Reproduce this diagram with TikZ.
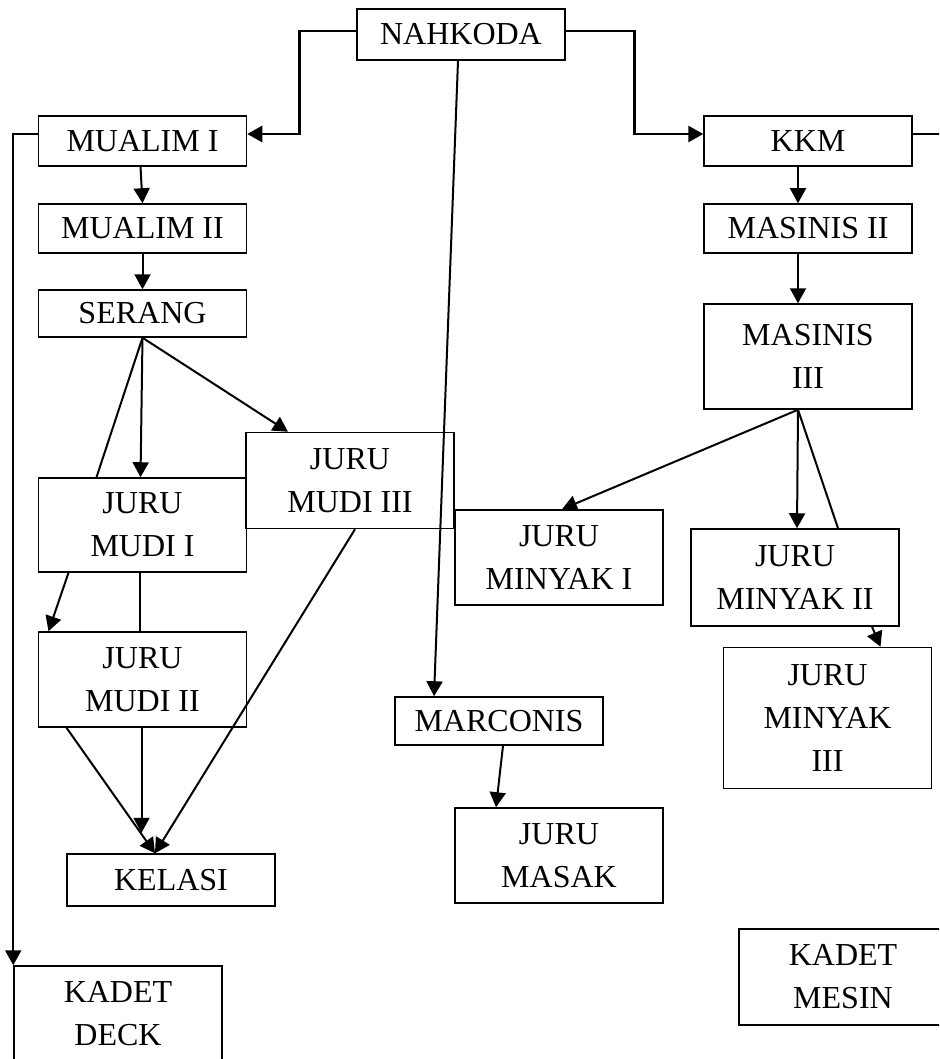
\documentclass[tikz,border=0pt]{standalone}
\usepackage{fontspec}
\setmainfont{Liberation Serif}
\usetikzlibrary{arrows.meta}

\tikzset{
  box/.style={draw, line width=0.75pt, minimum width=104pt, align=center, inner sep=2pt,
              font=\fontsize{16}{21.5}\selectfont},
  arr/.style={line width=1pt, -{Triangle[length=7.5pt,width=8pt]}},
  ln/.style={line width=1pt},
  bold/.style={line width=1.4pt}
}

\begin{document}
\begin{tikzpicture}[x=0.5pt,y=-0.5pt]

            \clip (0,0) rectangle (939,1059);
            %\draw [help lines] (0,0) grid (939,1059);

            \path   (461,34.5)  node (a) [box, minimum height=25.5pt] {NAHKODA}
                    (142.5,141) node (b) [box, minimum height=25pt] {MUALIM I}
                    (808,141)   node (c) [box, minimum height=25pt] {KKM}
                    (142.5,228.5) node (d) [box, minimum height=24.5pt] {MUALIM II}
                    (142.5,313.5) node (e) [box, minimum height=23.5pt] {SERANG}
                    (142.5,525) node (f) [box, minimum height=47pt] {JURU\\MUDI I}
                    (350,480.5) node (g) [box, minimum height=48pt] {JURU\\MUDI III}
                    (142.5,679.5) node (h) [box, minimum height=47.5pt] {JURU\\MUDI II}
                    (171,880)   node (i) [box, minimum height=26pt] {KELASI}
                    (118,1013.5) node (j) [box, minimum height=47.5pt] {KADET\\DECK}
                    (499,721)   node (k) [box, minimum height=24pt] {MARCONIS}
                    (559,855.5) node (l) [box, minimum height=47.5pt] {JURU\\MASAK}
                    (808,228.5) node (m) [box, minimum height=24.5pt] {MASINIS II}
                    (808,356.5) node (n) [box, minimum height=52.5pt] {MASINIS\\III}
                    (559,557.5) node (o) [box, minimum height=47.5pt] {JURU\\MINYAK I}
                    (795,577.5) node (p) [box, minimum height=48.5pt] {JURU\\MINYAK II}
                    (827.5,718) node (q) [box, minimum height=70.5pt] {JURU\\MINYAK\\III}
                    (843,977)   node (r) [box, minimum height=48pt] {KADET\\MESIN};

            % nahkoda
            \draw[arr, bold] ([yshift=1.75pt]a.west) -- ++(-57,0) |- ([yshift=3.5pt]b.east);
            \draw[arr, bold] ([yshift=1.75pt]a.east) -- ++(69,0) |- ([yshift=3.5pt]c.west);
            \draw[arr] ([xshift=-1.5pt]a.south) -- ([xshift=-32.5pt]k.north);
            \draw[arr] ([yshift=3.5pt]b.west) -| (j.north west);
            \draw[ln]  ([yshift=3.5pt]c.east) -- ++(40,0);

            % deck
            \draw[arr] ([xshift=-1pt]b.south) -- (d.north);
            \draw[arr] (d.south) -- (e.north);
            \draw[arr] (e.south) -- ([xshift=-1pt]f.north);
            \draw[ln]  (e.south) -- ([xshift=-23pt]f.north);
            \draw[arr] (e.south) -- ([xshift=-31pt]g.north);
            \draw[arr] ([xshift=-37pt]f.south) -- ([xshift=-47pt]h.north);
            \draw[ln]  ([xshift=-1.5pt]f.south) -- ([xshift=-1.5pt]h.north);
            \draw[arr] ([xshift=-38pt]h.south) -- ([xshift=-8pt]i.north);
            \draw[arr] ([xshift=-0.5pt]h.south) -- ++(0,105);
            \draw[arr] ([xshift=2.5pt]g.south) -- ([xshift=-8pt]i.north);

            % marconis
            \draw[arr] ([xshift=2pt]k.south) -- ([xshift=-31.5pt]l.north);

            % mesin
            \draw[arr] ([xshift=-5pt]c.south) -- ([xshift=-5pt]m.north);
            \draw[arr] ([xshift=-5pt]m.south) -- ([xshift=-5pt]n.north);
            \draw[arr] ([xshift=-5pt]n.south) -- ([xshift=1.5pt]o.north);
            \draw[arr] ([xshift=-5pt]n.south) -- ([xshift=1pt]p.north);
            \draw[ln]  ([xshift=-5pt]n.south) -- ([xshift=21.5pt]p.north);
            \draw[arr] ([xshift=38.5pt]p.south) -- ([xshift=26.5pt]q.north);
        \end{tikzpicture}
\end{document}
